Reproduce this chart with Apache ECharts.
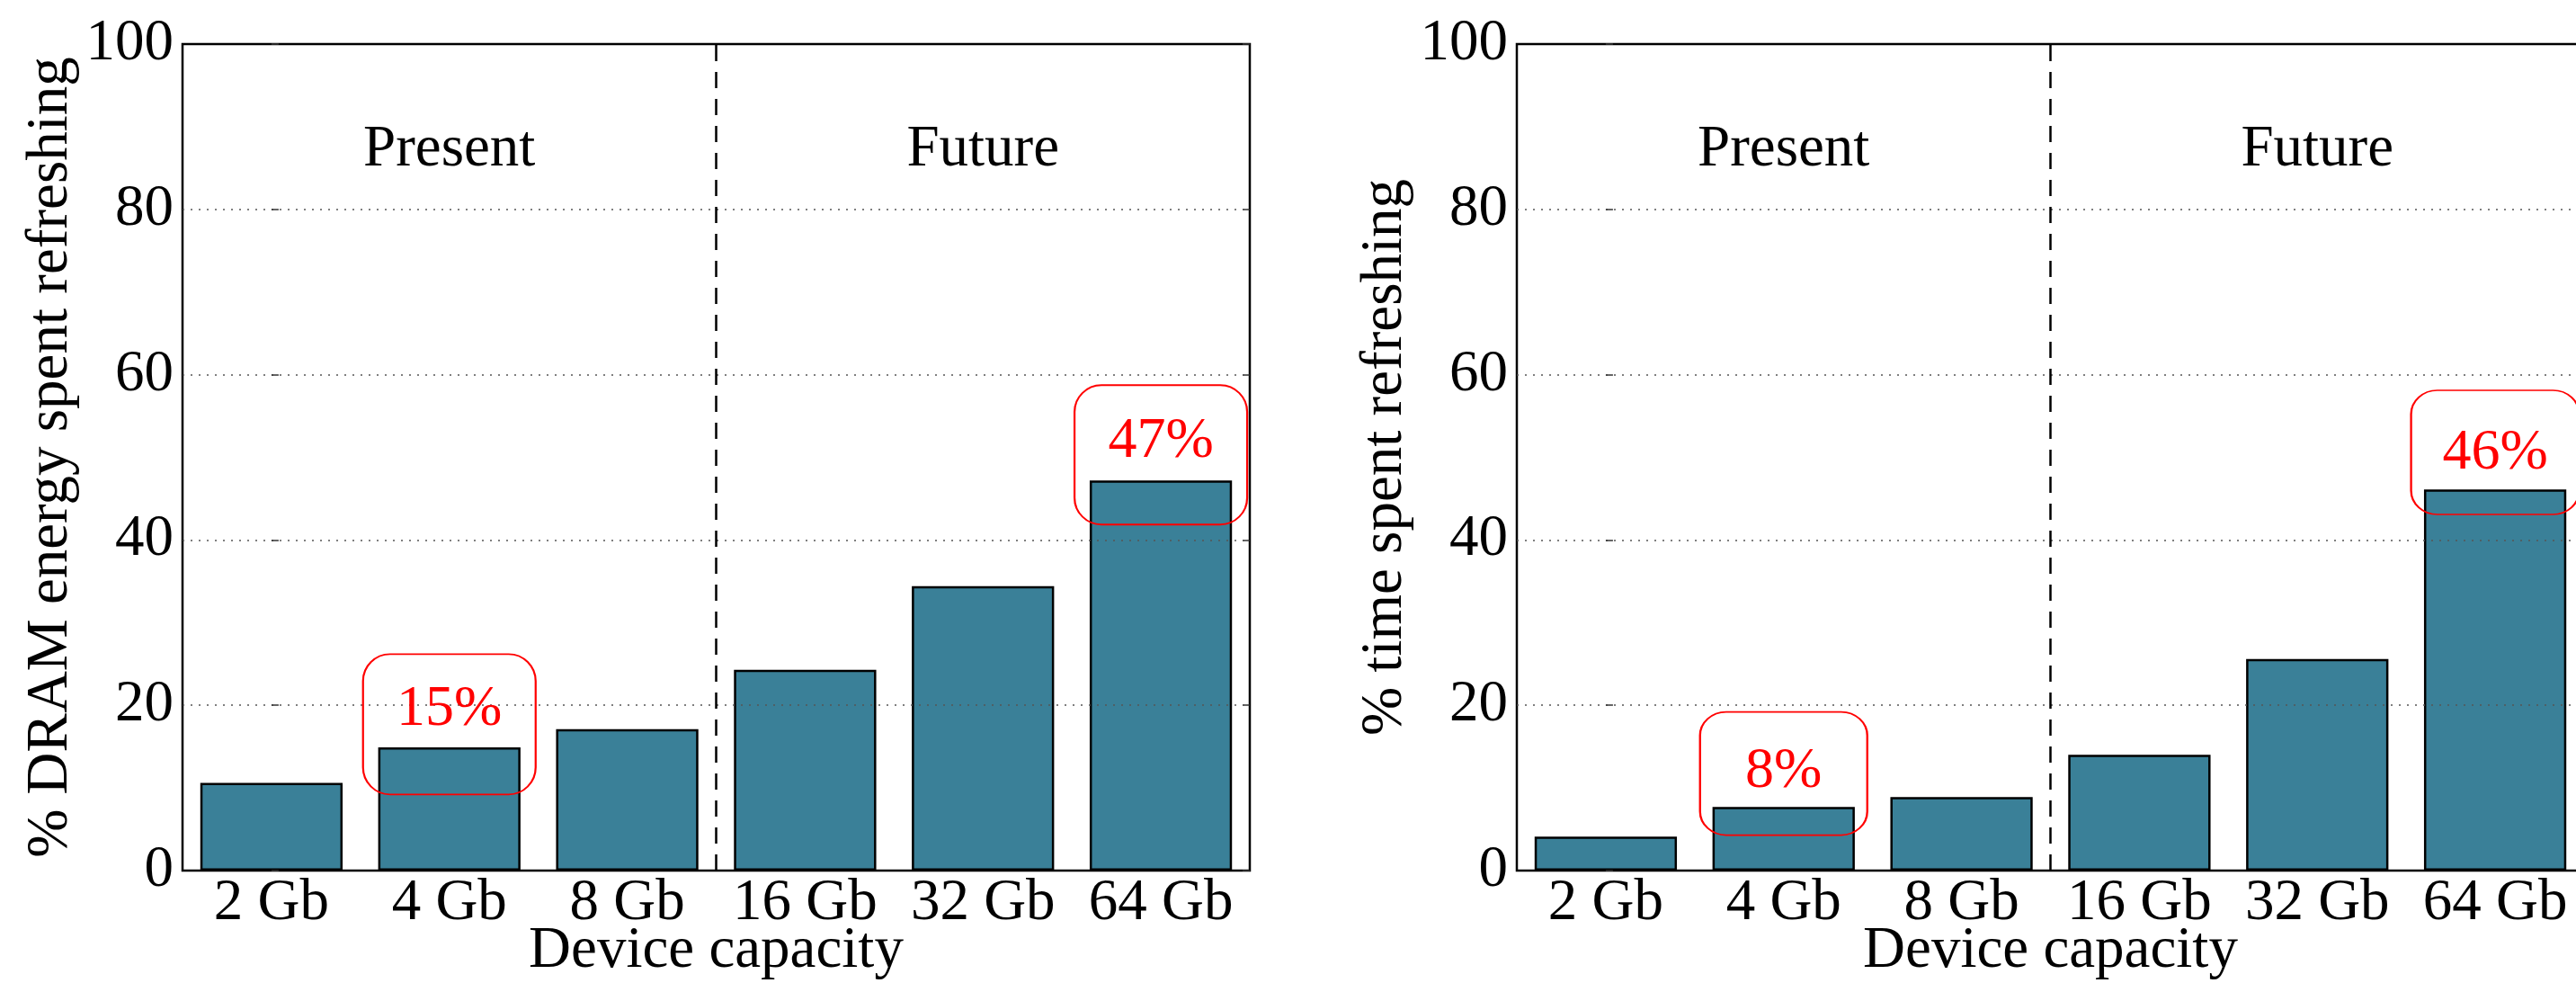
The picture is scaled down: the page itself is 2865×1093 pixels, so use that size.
<!DOCTYPE html>
<html>
<head>
<meta charset="utf-8">
<script src="https://cdn.jsdelivr.net/npm/echarts@6/dist/echarts.min.js"></script>
<style>
  html, body { margin: 0; background: #fff; }
  #chart { width: 2865px; height: 1093px; }
</style>
</head>
<body>
<div id="chart"></div>
<script>
// values
const CAPACITIES = ["2 Gb", "4 Gb", "8 Gb", "16 Gb", "32 Gb", "64 Gb"];
const ENERGY_PCT = [10.6, 14.9, 17.1, 24.3, 34.4, 47.2];
const TIME_PCT = [4.1, 7.7, 8.9, 14.0, 25.6, 46.1];
const Y_TICKS = [0, 20, 40, 60, 80, 100];
const ERAS = ["Present", "Future"];
const ENERGY_CALLOUTS = [["15%", "4 Gb"], ["47%", "64 Gb"]];
const TIME_CALLOUTS = [["8%", "4 Gb"], ["46%", "64 Gb"]];

const FONT = "Liberation Serif";
const FS = 65;
const BAR = "#3a8098";
const RED = "#ff0000";
const TICK = { inside: true, length: 8, lineStyle: { color: "#333", width: 1.5 } };
// rounded outline used for the callouts, stretched to each box size
const ROUND_BOX = "path://M30,0H162A30,30 0 0 1 192,30V126A30,30 0 0 1 162,156H30A30,30 0 0 1 0,126V30A30,30 0 0 1 30,0Z";

// layout per panel: grid box, callout text / box centres in data y, box sizes
const PANELS = [
  {
    name: "% DRAM energy spent refreshing", values: ENERGY_PCT, callouts: ENERGY_CALLOUTS, left: 203,
    textY: [19.5, 51.9], boxY: [17.7, 50.3], boxSize: [[192, 156], [192, 155]],
  },
  {
    name: "% time spent refreshing", values: TIME_PCT, callouts: TIME_CALLOUTS, left: 1687,
    textY: [12.0, 50.5], boxY: [11.75, 50.6], boxSize: [[186, 137], [187, 138]],
  },
];

const text = (extra) => Object.assign({ color: "#000", fontFamily: FONT, fontSize: FS }, extra);

function buildOption() {
  const grid = [], xAxis = [], yAxis = [], series = [];
  PANELS.forEach((p, i) => {
    grid.push({
      left: p.left, top: 49, width: 1187, height: 919, outerBoundsMode: "none",
      show: true, borderColor: "#000", borderWidth: 2.5,
    });
    xAxis.push(
      {
        gridIndex: i, type: "category", data: CAPACITIES, position: "bottom",
        axisLine: { show: false }, axisTick: Object.assign({ alignWithLabel: true }, TICK),
        axisLabel: text({ margin: 4, interval: 0 }),
        name: "Device capacity", nameLocation: "middle", nameGap: 57, nameMoveOverlap: false,
        nameTextStyle: text({}),
      },
      {
        gridIndex: i, type: "category", data: CAPACITIES, position: "top",
        axisLine: { show: false }, axisTick: Object.assign({ alignWithLabel: true }, TICK),
        axisLabel: { show: false },
      },
      { gridIndex: i, type: "value", min: -0.5, max: 5.5, show: false }
    );
    yAxis.push(
      {
        gridIndex: i, type: "value", min: Y_TICKS[0], max: Y_TICKS[Y_TICKS.length - 1], interval: 20, z: 3,
        axisLine: { show: false }, axisTick: TICK,
        axisLabel: text({ margin: 10 }),
        splitLine: { show: true, showMinLine: false, showMaxLine: false, lineStyle: { color: "#555", width: 1.5, type: [2, 7] } },
        name: p.name, nameLocation: "middle", nameGap: 114, nameTextStyle: text({}),
      },
      {
        gridIndex: i, type: "value", min: Y_TICKS[0], max: Y_TICKS[Y_TICKS.length - 1], interval: 20, position: "right",
        axisLine: { show: false }, axisTick: TICK, axisLabel: { show: false }, splitLine: { show: false },
      }
    );
    const marks = [];
    p.callouts.forEach(([label, at], k) => {
      marks.push({
        coord: [at, p.boxY[k]], symbol: ROUND_BOX, symbolSize: p.boxSize[k],
        itemStyle: { color: "transparent", borderColor: RED, borderWidth: 2 },
        label: { show: false },
      });
      marks.push({
        coord: [at, p.textY[k]], symbolSize: 0,
        label: text({ show: true, position: "inside", formatter: label, color: RED, fontSize: 64 }),
      });
    });
    ERAS.forEach((era, k) => {
      marks.push({
        coord: [k === 0 ? "4 Gb" : "32 Gb", 87.2], symbolSize: 0,
        label: text({ show: true, position: "inside", formatter: era, lineHeight: FS }),
      });
    });
    series.push(
      {
        type: "bar", xAxisIndex: i * 3, yAxisIndex: i * 2, data: p.values, barWidth: "80%",
        itemStyle: { color: BAR, borderColor: "#000", borderWidth: 2.5 },
        markPoint: { symbol: "circle", symbolSize: 0, silent: true, data: marks },
      },
      {
        type: "line", xAxisIndex: i * 3 + 2, yAxisIndex: i * 2, data: [],
        markLine: {
          symbol: ["none", "none"], silent: true, label: { show: false },
          lineStyle: { color: "#000", width: 2.5, type: [18, 12] },
          data: [{ xAxis: 2.5 }],
        },
      }
    );
  });
  return { animation: false, backgroundColor: "#fff", grid, xAxis, yAxis, series };
}

const chart = echarts.init(document.getElementById("chart"));
chart.setOption(buildOption());
</script>
</body>
</html>
